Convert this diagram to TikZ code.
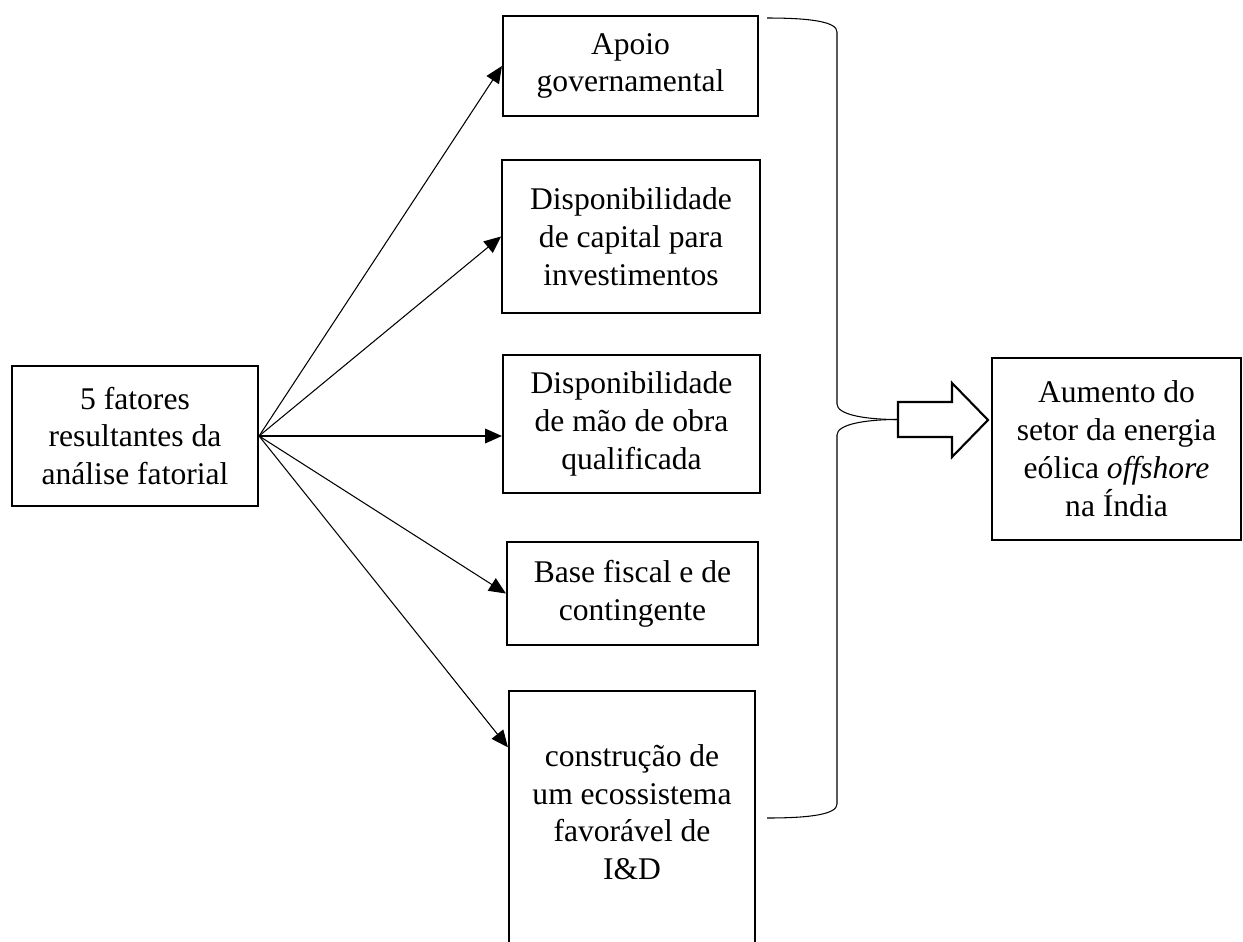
\documentclass[tikz,border=0pt]{standalone}
\usepackage{fontspec}
\setmainfont{Liberation Serif}
\usepackage{tikz}
\usetikzlibrary{arrows.meta}

\begin{document}
\begin{tikzpicture}[x=0.38pt, y=-0.38pt,
		every node/.style={rectangle,draw,line width=0.8pt,align=center,inner sep=0pt,font={\fontsize{12}{14.4}\selectfont}},
		>={Triangle[length=6.4pt,width=5.6pt]}]
			\useasboundingbox (0,0) rectangle (1243,941);
			\clip (0,0) rectangle (1243,941);
			
			\node[minimum width=93.5pt, minimum height=53.2pt] (fac) at (135,436) {5 fatores\\resultantes da\\análise fatorial};
			\node[minimum width=96.9pt, minimum height=38pt] (apoio) at (630.5,66) {Apoio\\governamental};
			\node[minimum width=98pt, minimum height=58.1pt] (capital) at (631,236.5) {Disponibilidade\\de capital para\\investimentos};
			\node[minimum width=97.7pt, minimum height=52.4pt] (mao) at (631.5,424) {Disponibilidade\\de mão de obra\\qualificada};
			\node[minimum width=95.4pt, minimum height=39.1pt] (fiscal) at (632.5,593.5) {Base fiscal e de\\contingente};
			\node[minimum width=93.5pt, minimum height=106.4pt] (ied) at (632,831) {construção de\\um ecossistema\\favorável de\\I\&D\\~};
			\node[minimum width=94.6pt, minimum height=69.2pt] (result) at (1116.5,449) {Aumento do\\setor da energia\\eólica \textit{offshore}\\na Índia};
			
			\path[->,line width=0.4pt] (fac.east) edge (apoio.west);
			\path[->,line width=0.4pt] (fac.east) edge (capital.west);
			\path[->,line width=0.4pt] (fac.east) edge (mao.west |- fac.east);
			\path[->,line width=0.4pt] (fac.east) edge (fiscal.west);
			\path[->,line width=0.4pt] (fac.east) edge (ied.146);
			
			% chaveta
			\coordinate (topo) at (767,18);
			\coordinate (base) at (767,818);
			\coordinate (ponta) at (898,419.5);
			\draw[line width=0.4pt] (topo) .. controls (812,18) and (837,22) .. (837,32) -- (837,404)
				.. controls (837,414) and (862,419.5) .. (ponta);
			\draw[line width=0.4pt] (ponta) .. controls (862,419.5) and (837,425) .. (837,435) -- (837,804)
				.. controls (837,814) and (812,818) .. (base);
			
			% seta larga
			\draw[line width=0.8pt] (898,402) -- (952,402) -- (952,383) -- (988,420) -- (952,457) -- (952,437) -- (898,437) -- cycle;
		\end{tikzpicture}
\end{document}
